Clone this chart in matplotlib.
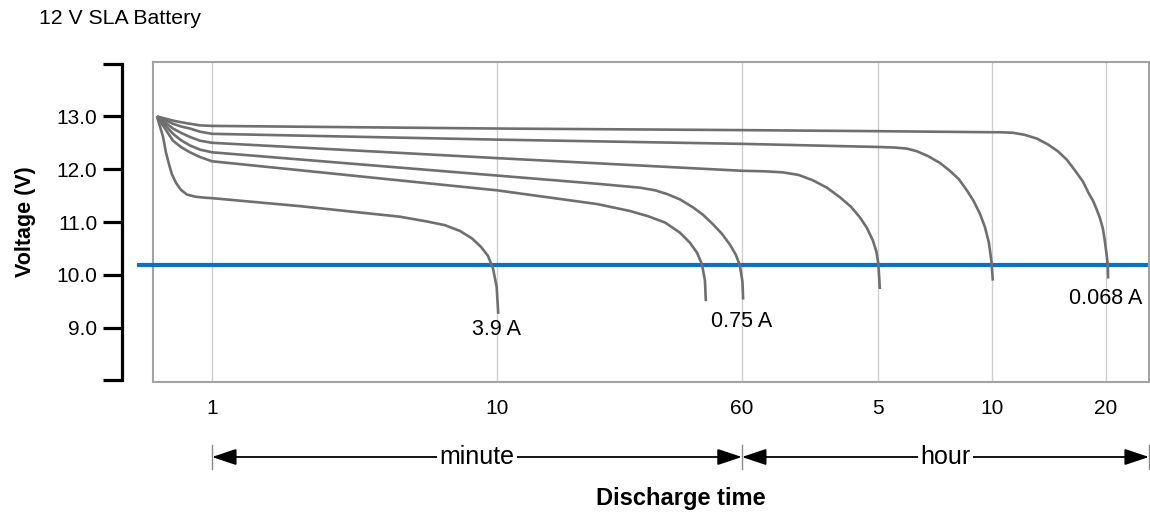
import numpy as np
import matplotlib
matplotlib.use("Agg")
import matplotlib.pyplot as plt
import matplotlib.transforms as mtrans

plt.rcParams['font.family'] = ['Liberation Sans', 'DejaVu Sans']

###  Data (discharge time in minutes, voltage in V)
t_3_9 = [0.641, 0.657, 0.673, 0.690, 0.707, 0.724, 0.748, 0.778, 0.817, 0.872, 0.945, 1.008,
         2.04, 4.57, 5.68, 6.57, 7.42, 8.17, 8.79, 9.30, 9.68, 9.98, 10.1]
v_3_9 = [13.0, 12.81, 12.62, 12.31, 12.09, 11.90, 11.74, 11.61, 11.52, 11.48, 11.46, 11.45,
         11.30, 11.10, 11.01, 10.94, 10.83, 10.69, 10.53, 10.36, 10.13, 9.77, 9.26]

t_c5 = [0.641, 0.730, 0.778, 0.837, 0.908, 1.0, 10.0, 20.8, 26.4, 30.2, 34.2, 38.1, 41.0, 43.2, 44.8, 45.8, 46.1]
v_c5 = [13.0, 12.54, 12.42, 12.32, 12.23, 12.15, 11.60, 11.34, 11.21, 11.11, 10.99, 10.80, 10.61, 10.42, 10.20, 9.89, 9.50]

t_0_75 = [0.641, 0.730, 0.778, 0.837, 0.908, 1.0, 10.0, 21.2, 28.5, 31.8, 34.7, 38.1, 41.9, 45.1, 48.5,
          51.8, 55.0, 57.4, 59.1, 60.4, 60.9]
v_0_75 = [13.0, 12.67, 12.55, 12.45, 12.37, 12.32, 11.88, 11.72, 11.65, 11.60, 11.53, 11.43, 11.28, 11.14, 10.96,
          10.78, 10.57, 10.38, 10.18, 9.87, 9.53]

t_c3 = [0.641, 0.730, 0.778, 0.837, 0.908, 1.0, 10.0, 60.0, 78.8, 97.5, 117.8, 139.0, 164.1, 191.3, 218.0,
        242.4, 263.4, 282.8, 294.8, 300.9, 303.7]
v_c3 = [13.0, 12.77, 12.69, 12.61, 12.54, 12.50, 12.21, 11.97, 11.96, 11.94, 11.89, 11.79, 11.65, 11.47, 11.29,
        11.09, 10.89, 10.65, 10.44, 10.21, 9.73]

t_c2 = [0.641, 0.730, 0.778, 0.837, 0.908, 1.0, 10.0, 60.0, 303.7, 332.7, 357.9, 380.3, 406.6, 437.3, 464.8,
        491.0, 515.4, 537.8, 557.8, 575.0, 589.2, 598.2, 603.7]
v_c2 = [13.0, 12.86, 12.81, 12.77, 12.71, 12.67, 12.56, 12.48, 12.42, 12.41, 12.39, 12.34, 12.25, 12.12, 11.97,
        11.81, 11.60, 11.39, 11.16, 10.91, 10.61, 10.27, 9.89]

t_0_068 = [0.641, 0.730, 0.778, 0.837, 0.908, 1.0, 10.0, 60.0, 300, 600, 630.1, 681.7, 733.4, 788.9, 843.4,
           896.4, 946.6, 993.8, 1043.3, 1082.1, 1110.7, 1136.1, 1157.0, 1178.4, 1192.8, 1207.4, 1214.7, 1216.9]
v_0_068 = [13.0, 12.92, 12.89, 12.86, 12.83, 12.82, 12.77, 12.74, 12.72, 12.70, 12.70, 12.69, 12.65, 12.58, 12.47,
           12.34, 12.18, 11.98, 11.77, 11.54, 11.40, 11.23, 11.08, 10.88, 10.64, 10.35, 10.17, 9.93]

cutoff_v = 10.18

curve_labels = ["3.9 A", "0.75 A", "0.068 A"]
label_t = [10.0, 60.0, 1200.0]
label_v = [8.96, 9.12, 9.55]

xtick_vals = [1, 10, 60, 300, 600, 1200]
xtick_text = ["1", "10", "60", "5", "10", "20"]
ytick_vals = [8, 9, 10, 11, 12, 13, 14]
ytick_text = ["", "9.0", "10.0", "11.0", "12.0", "13.0", ""]

###  Non-uniform time axis (as drawn in the original chart)
ref_logt = np.log10([0.1, 1, 10, 60, 300, 600, 1200, 10000])
ref_pos = [-73, 212, 497, 742, 878, 992, 1106, 1455]

def fwd(t):
    t = np.clip(np.asarray(t, dtype=float), 1e-9, None)
    return np.interp(np.log10(t), ref_logt, ref_pos)

def inv(p):
    return 10 ** np.interp(p, ref_pos, ref_logt)

###  Figure
W, H = 1150, 516
fig = plt.figure(figsize=(W / 100, H / 100), dpi=100)
ax = fig.add_axes([153 / W, 1 - 382 / H, 996 / W, 320 / H])
ax.set_xscale('function', functions=(fwd, inv))
ax.set_xlim(0.621, 1560)
ax.set_ylim(7.97, 14.03)

frame = '#a3a3a3'
for s in ['top', 'bottom', 'right']:
    ax.spines[s].set_color(frame)
    ax.spines[s].set_linewidth(1.5)
ax.plot([0, 0], [0, 1], transform=ax.transAxes, color=frame, lw=1.5, clip_on=False)

ax.spines['left'].set_position(('outward', 22))
ax.spines['left'].set_bounds(8, 14)
ax.spines['left'].set_linewidth(2.3)
ax.spines['left'].set_color('black')

ax.set_yticks(ytick_vals)
ax.set_yticklabels(ytick_text)
ax.tick_params(axis='y', length=14, width=2.3, pad=4, labelsize=15)
ax.set_xticks(xtick_vals)
ax.set_xticklabels(xtick_text)
ax.xaxis.set_minor_locator(matplotlib.ticker.NullLocator())
ax.tick_params(axis='x', length=0, pad=12, labelsize=15)

for xv in xtick_vals:
    ax.axvline(xv, color='#cfcfcf', lw=1, zorder=0)

ax.axhline(cutoff_v, xmin=-0.014, xmax=1, color='#1170bb', lw=3, clip_on=False, zorder=2)

gray = '#6f6f6f'
for tt, vv in [(t_3_9, v_3_9), (t_c5, v_c5), (t_0_75, v_0_75), (t_c3, v_c3), (t_c2, v_c2), (t_0_068, v_0_068)]:
    ax.plot(tt, vv, color=gray, lw=1.9, zorder=3, solid_capstyle='butt', solid_joinstyle='round')

for lab, lt, lv in zip(curve_labels, label_t, label_v):
    ax.text(lt, lv, lab, ha='center', va='center', fontsize=15.5)

ax.set_ylabel("Voltage (V)", fontsize=15.5, fontweight='bold')
ax.yaxis.set_label_coords(-0.117, 0.5)
fig.text(681 / W, 1 - 498 / H, "Discharge time", ha='center', va='center', fontsize=17, fontweight='bold')
fig.text(39 / W, 1 - 19 / H, "12 V SLA Battery", ha='left', va='center', fontsize=15.3)

###  minute / hour arrows below the axis
ya = 1 - 457 / H
tr_data = mtrans.blended_transform_factory(ax.transData, fig.transFigure)
tr_axes = mtrans.blended_transform_factory(ax.transAxes, fig.transFigure)
arrow = dict(arrowstyle='<|-|>,head_length=0.75,head_width=0.25', color='black', lw=1.3,
             shrinkA=0, shrinkB=0, mutation_scale=20)
ax.annotate('', xy=(60, ya), xycoords=tr_data, xytext=(1, ya), textcoords=tr_data,
            arrowprops=arrow, annotation_clip=False)
ax.annotate('', xy=(1.0, ya), xycoords=tr_axes, xytext=(60, ya), textcoords=tr_data,
            arrowprops=arrow, annotation_clip=False)
for xv, tr in [(1, tr_data), (60, tr_data), (1.0, tr_axes)]:
    ax.plot([xv, xv], [1 - 445 / H, 1 - 469 / H], transform=tr, color='#8a8a8a', lw=1, clip_on=False)

mid_min = inv((fwd(1) + fwd(60)) / 2)
mid_hr_px = (ax.transAxes.transform((1.0, 0))[0] + ax.transData.transform((60, 10))[0]) / 2
mid_hr = ax.transData.inverted().transform((mid_hr_px, 0))[0]
box = dict(facecolor='white', edgecolor='none', pad=2)
ax.text(mid_min, ya, "minute", transform=tr_data, ha='center', va='center', fontsize=18, bbox=box)
ax.text(mid_hr, ya, "hour", transform=tr_data, ha='center', va='center', fontsize=18, bbox=box)

fig.savefig("out.png", dpi=100)
